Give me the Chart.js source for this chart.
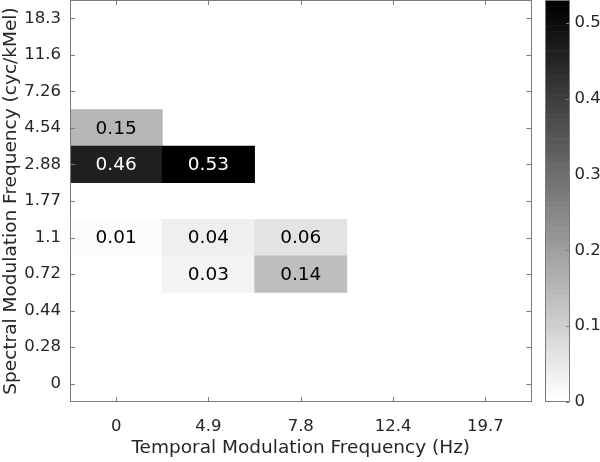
<!DOCTYPE html>
<html>
<head>
<meta charset="utf-8">
<script src="https://cdn.jsdelivr.net/npm/chart.js@4"></script>
<style>
  html, body { margin: 0; padding: 0; background: #fff; }
  #wrap { width: 600px; height: 462px; }
</style>
</head>
<body>
<div id="wrap"><canvas id="chart" width="600" height="462"></canvas></div>
<script>
var xLabels = ["0", "4.9", "7.8", "12.4", "19.7"];
var yLabels = ["0", "0.28", "0.44", "0.72", "1.1", "1.77", "2.88", "4.54", "7.26", "11.6", "18.3"];
// rows follow yLabels, columns follow xLabels, null = empty cell
var cellValues = [
    [null, null, null, null, null],
    [null, null, null, null, null],
    [null, null, null, null, null],
    [null, 0.03, 0.14, null, null],
    [0.01, 0.04, 0.06, null, null],
    [null, null, null, null, null],
    [0.46, 0.53, null, null, null],
    [0.15, null, null, null, null],
    [null, null, null, null, null],
    [null, null, null, null, null],
    [null, null, null, null, null]
];
var colorTicks = [0, 0.1, 0.2, 0.3, 0.4, 0.5];
var colorMin = 0;
var colorMax = 0.53;
var colorLevels = 64;

var FONT = "'DejaVu Sans', sans-serif";
var TEXT = "#262626";
var AXIS = "#7a7a7a";

function levelGray(k) {
    var g = Math.round(255 * (colorLevels - 1 - k) / (colorLevels - 1));
    return "rgb(" + g + "," + g + "," + g + ")";
}

function valueColor(v) {
    var k = Math.floor((v - colorMin) / (colorMax - colorMin) * colorLevels);
    k = Math.max(0, Math.min(colorLevels - 1, k));
    return levelGray(k);
}

var datasets = [];
cellValues.forEach(function(row, r) {
    var data = [];
    var colors = [];
    row.forEach(function(v, c) {
        if (v === null) {
            return;
        }
        data.push({ x: xLabels[c], y: [r - 0.5, r + 0.5], v: v });
        colors.push(valueColor(v));
    });
    if (data.length) {
        datasets.push({
            data: data,
            backgroundColor: colors,
            borderWidth: 0,
            grouped: false,
            barPercentage: 1,
            categoryPercentage: 1
        });
    }
});

// value text inside each cell
var cellText = {
    id: "cellText",
    afterDatasetsDraw: function(chart) {
        var ctx = chart.ctx;
        ctx.save();
        ctx.font = "18.5px " + FONT;
        ctx.textAlign = "center";
        ctx.textBaseline = "middle";
        chart.data.datasets.forEach(function(ds, i) {
            chart.getDatasetMeta(i).data.forEach(function(el, j) {
                var v = ds.data[j].v;
                ctx.fillStyle = v > colorMax / 2 ? "#ffffff" : "#000000";
                ctx.fillText(v.toFixed(2), el.x, (el.y + el.base) / 2 + 1);
            });
        });
        ctx.restore();
    }
};

// axes box, inward ticks and the colorbar
var frame = {
    id: "frame",
    afterDraw: function(chart) {
        var ctx = chart.ctx;
        var a = chart.chartArea;
        var xs = chart.scales.x, ys = chart.scales.y, cs = chart.scales.y2;
        ctx.save();
        ctx.strokeStyle = AXIS;
        ctx.lineWidth = 1;
        ctx.beginPath();
        xs.ticks.forEach(function(t, i) {
            var px = Math.round(xs.getPixelForTick(i)) + 0.5;
            ctx.moveTo(px, a.bottom);
            ctx.lineTo(px, a.bottom - 5);
            ctx.moveTo(px, a.top);
            ctx.lineTo(px, a.top + 5);
        });
        ys.ticks.forEach(function(t) {
            var py = Math.round(ys.getPixelForValue(t.value)) + 0.5;
            ctx.moveTo(a.left, py);
            ctx.lineTo(a.left + 5, py);
            ctx.moveTo(a.right, py);
            ctx.lineTo(a.right - 5, py);
        });
        ctx.stroke();
        ctx.strokeRect(Math.round(a.left) + 0.5, Math.round(a.top) + 0.5,
            Math.round(a.right - a.left) - 1, Math.round(a.bottom - a.top) - 1);

        // colorbar
        var x0 = a.right + 13.5, w = 25;
        for (var k = 0; k < colorLevels; k++) {
            var lo = colorMin + (colorMax - colorMin) * k / colorLevels;
            var hi = colorMin + (colorMax - colorMin) * (k + 1) / colorLevels;
            var y1 = cs.getPixelForValue(hi), y2 = cs.getPixelForValue(lo);
            ctx.fillStyle = levelGray(k);
            ctx.fillRect(x0, y1, w, y2 - y1 + 0.5);
        }
        ctx.strokeRect(Math.round(x0) + 0.5, Math.round(cs.top) + 0.5, w - 1, Math.round(cs.bottom - cs.top) - 1);
        ctx.beginPath();
        cs.ticks.forEach(function(t) {
            var py = Math.round(cs.getPixelForValue(t.value)) + 0.5;
            ctx.moveTo(x0 + w - 1, py);
            ctx.lineTo(x0 + w - 4, py);
        });
        ctx.stroke();
        ctx.restore();
    }
};

function noEdgePadding(s) {
    s.paddingTop = 0;
    s.paddingBottom = 0;
    s.paddingLeft = 0;
    s.paddingRight = 0;
}

new Chart(document.getElementById("chart"), {
    type: "bar",
    data: { labels: xLabels, datasets: datasets },
    plugins: [cellText, frame],
    options: {
        responsive: false,
        animation: false,
        layout: { padding: 0, autoPadding: false },
        plugins: { legend: { display: false }, tooltip: { enabled: false } },
        scales: {
            x: {
                type: "category",
                labels: xLabels,
                offset: true,
                grid: { display: false, drawTicks: false },
                border: { display: false },
                ticks: { color: TEXT, font: { family: FONT, size: 16.5 }, padding: 15, maxRotation: 0 },
                title: {
                    display: true,
                    text: "Temporal Modulation Frequency (Hz)",
                    color: TEXT,
                    font: { family: FONT, size: 18.5 },
                    padding: { top: 0, bottom: 3 }
                },
                afterFit: function(s) { s.height = 60; noEdgePadding(s); }
            },
            y: {
                type: "linear",
                min: -0.5,
                max: yLabels.length - 0.5,
                grid: { display: false, drawTicks: false },
                border: { display: false },
                afterBuildTicks: function(s) {
                    s.ticks = yLabels.map(function(l, i) { return { value: i }; });
                },
                ticks: {
                    color: TEXT,
                    font: { family: FONT, size: 16.5 },
                    padding: 9,
                    callback: function(v) { return yLabels[v]; }
                },
                title: {
                    display: true,
                    text: "Spectral Modulation Frequency (cyc/kMel)",
                    color: TEXT,
                    font: { family: FONT, size: 18.5 },
                    padding: { top: 0, bottom: 0 }
                },
                afterFit: function(s) { s.width = 70; noEdgePadding(s); }
            },
            y2: {
                type: "linear",
                position: "right",
                min: colorMin,
                max: colorMax,
                grid: { display: false, drawTicks: false },
                border: { display: false },
                afterBuildTicks: function(s) {
                    s.ticks = colorTicks.map(function(v) { return { value: v }; });
                },
                ticks: {
                    color: TEXT,
                    font: { family: FONT, size: 16.5 },
                    padding: 43,
                    callback: function(v) { return String(v); }
                },
                afterFit: function(s) { s.width = 68.5; noEdgePadding(s); }
            }
        }
    }
});
</script>
</body>
</html>
